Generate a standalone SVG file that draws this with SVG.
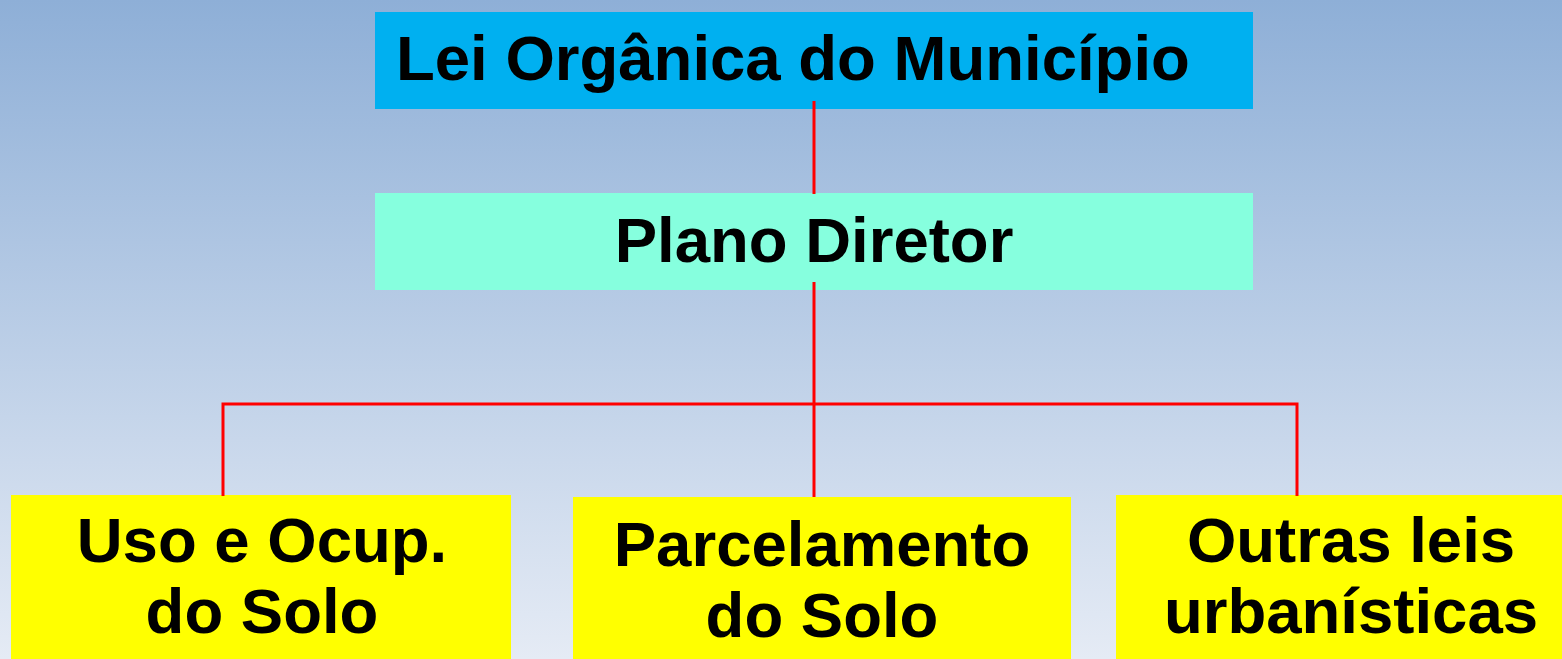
<svg xmlns="http://www.w3.org/2000/svg" width="1562" height="659" viewBox="0 0 1562 659">
<defs>
<linearGradient id="bg" x1="0" y1="0" x2="0" y2="1">
<stop offset="0" stop-color="#8EAFD7"/>
<stop offset="1" stop-color="#E5EBF5"/>
</linearGradient>
</defs>
<style>
text{font-family:"Liberation Sans",Arial,sans-serif;font-weight:bold;font-size:63.5px;fill:#000}
.c{text-anchor:middle}
.ln{stroke:#FF0000;stroke-width:3;fill:none}
</style>
<rect x="0" y="0" width="1562" height="659" fill="url(#bg)"/>
<g id="n-lei">
<rect x="375" y="12" width="878" height="97" fill="#00B0F0"/>
<text x="396" y="80">Lei Orgânica do Município</text>
</g>
<g id="n-plano">
<rect x="375" y="193" width="878" height="97" fill="#86FFDE"/>
<text class="c" x="814" y="262">Plano Diretor</text>
</g>
<g id="n-uso">
<rect x="11" y="495" width="500" height="164" fill="#FFFF00"/>
<text class="c" x="262" y="562">Uso e Ocup.</text>
<text class="c" x="262" y="633">do Solo</text>
</g>
<g id="n-parc">
<rect x="573" y="497" width="498" height="162" fill="#FFFF00"/>
<text class="c" x="822" y="566">Parcelamento</text>
<text class="c" x="822" y="637">do Solo</text>
</g>
<g id="n-outras">
<rect x="1116" y="495" width="446" height="164" fill="#FFFF00"/>
<text class="c" x="1351" y="562">Outras leis</text>
<text class="c" x="1351" y="633">urbanísticas</text>
</g>
<g id="connectors">
<line class="ln" x1="814" y1="101" x2="814" y2="194"/>
<line class="ln" x1="814" y1="282" x2="814" y2="497"/>
<polyline class="ln" points="223,496 223,404 1297,404 1297,496"/>
</g>
</svg>
